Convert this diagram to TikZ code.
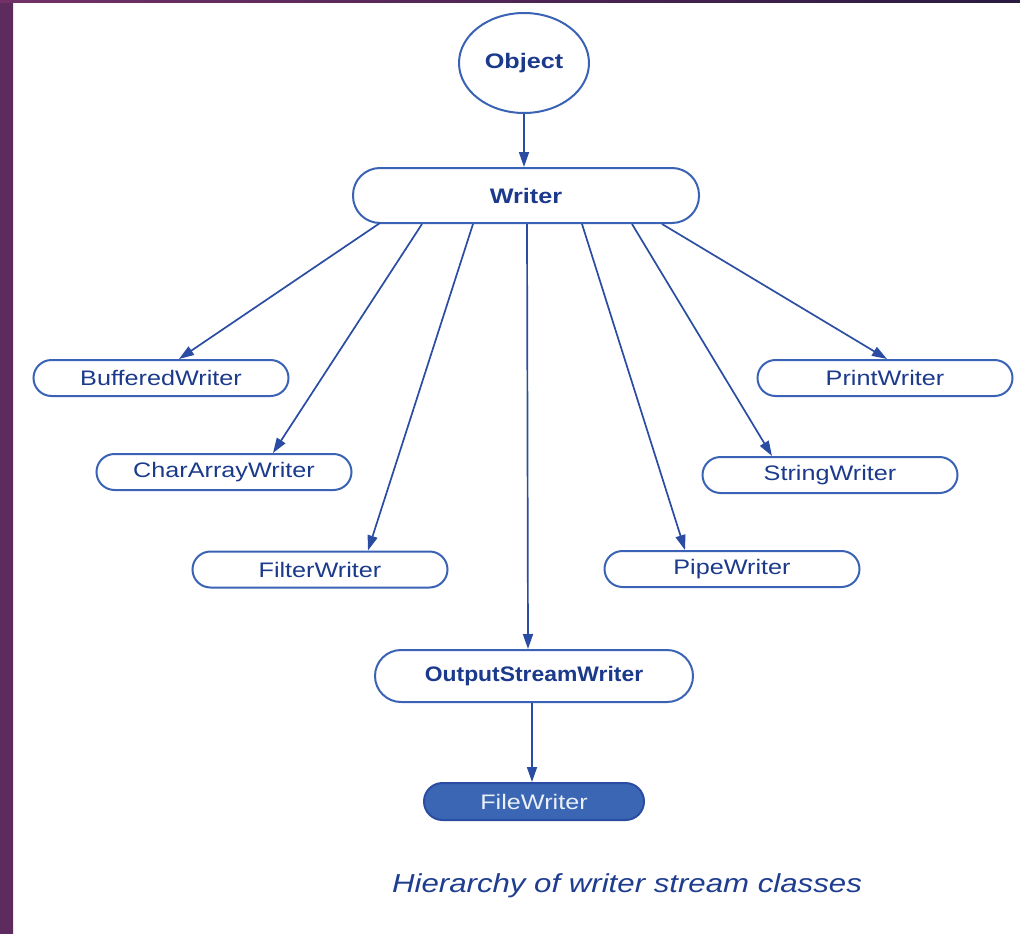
\documentclass[tikz,border=0pt]{standalone}
\usepackage{fontspec}
\setmainfont{Liberation Sans}[FakeStretch=1.2]
\newfontfamily\oswfont{Liberation Sans}[FakeStretch=1.09]
\usetikzlibrary{arrows.meta,shapes.geometric}

\definecolor{edgeblue}{HTML}{2A4DA3}
\definecolor{outlineblue}{HTML}{3A63B5}
\definecolor{ink}{HTML}{1B3A8C}
\definecolor{filefill}{HTML}{3B66B4}
\definecolor{captionblue}{HTML}{1E3D8F}
\definecolor{bandpurple}{HTML}{733167}
\definecolor{banddark}{HTML}{5E2B5F}
\definecolor{bandnavy}{HTML}{2A1B40}

\tikzset{
  cls/.style={draw=outlineblue, line width=2pt, rounded corners=18pt,
    minimum width=255pt, minimum height=36pt, inner sep=0pt, text=ink,
    font=\fontsize{21}{25}\selectfont},
  root/.style={draw=outlineblue, line width=2pt, ellipse, inner sep=0pt,
    minimum width=130pt, minimum height=100pt, text=ink,
    font=\fontsize{21}{25}\selectfont\bfseries},
  link/.style={draw=edgeblue, line width=1.7pt,
    -{Triangle[length=15pt,width=10pt]}}
}

\begin{document}
\begin{tikzpicture}[x=1pt,y=-1pt]
  \useasboundingbox (0,0) rectangle (1020,934);
  % page background and frame bands
  \fill[white] (0,0) rectangle (1020,934);
  \shade[top color=banddark, middle color=bandpurple, bottom color=banddark]
    (0,0) rectangle (13,934);
  \shade[left color=bandpurple, right color=bandnavy] (0,0) rectangle (1020,3);

  % class nodes
  \node[root] (object) at (524,63) {Object};
  \node[cls, minimum width=346pt, minimum height=55pt, rounded corners=27pt,
        font=\fontsize{21}{25}\selectfont\bfseries] (writer) at (526,195.5) {Writer};

  \node[cls] (buffered)  at (161,378) {BufferedWriter};
  \node[cls] (chararray) at (224,472) {CharArrayWriter};
  \node[cls] (filter)    at (320,569.5) {FilterWriter};
  \node[cls] (print)     at (885,378) {PrintWriter};
  \node[cls] (string)    at (830,475) {StringWriter};
  \node[cls] (pipe)      at (732,569) {PipeWriter};

  \node[cls, minimum width=318pt, minimum height=52pt, rounded corners=26pt,
        font=\fontsize{21}{25}\selectfont\oswfont\bfseries] (osw) at (534,676) {OutputStreamWriter};
  \node[cls, minimum width=220pt, minimum height=37pt, rounded corners=18.5pt,
        fill=filefill, draw=edgeblue, text=white!90!filefill] (file) at (534,801.5) {FileWriter};

  % inheritance arrows
  \draw[link] (object.south) -- (object.south |- writer.north);
  \draw[link] ([xshift=-146pt,yshift=1pt]writer.south) -- ([xshift=18pt]buffered.north);
  \draw[link] ([xshift=-104pt]writer.south) -- ([xshift=49pt]chararray.north);
  \draw[link] ([xshift=-53pt]writer.south)  -- ([xshift=48pt]filter.north);
  \draw[link] ([xshift=1pt]writer.south)    -- ([xshift=-6pt]osw.north);
  \draw[link] ([xshift=56pt]writer.south)   -- ([xshift=-47pt]pipe.north);
  \draw[link] ([xshift=106pt]writer.south)  -- ([xshift=-58pt]string.north);
  \draw[link] ([xshift=136pt]writer.south)  -- ([xshift=2pt]print.north);
  \draw[link] ([xshift=-2pt]osw.south) -- ([xshift=-2pt]file.north);

  % caption
  \node[text=captionblue, font=\fontsize{26}{30}\selectfont\itshape] (caption)
    at (627,886) {Hierarchy of writer stream classes};
\end{tikzpicture}
\end{document}
